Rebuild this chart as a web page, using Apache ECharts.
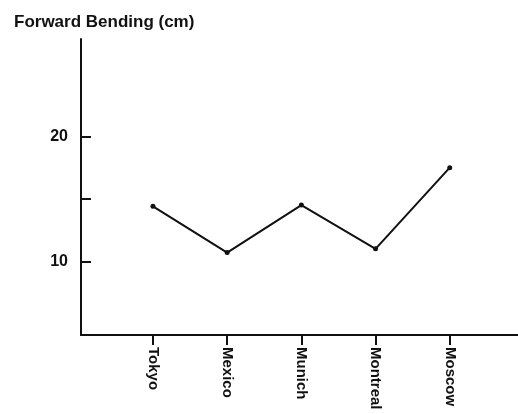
<!DOCTYPE html>
<html>
<head>
<meta charset="utf-8">
<script src="https://cdn.jsdelivr.net/npm/echarts@6/dist/echarts.min.js"></script>
<style>html,body{margin:0;padding:0;background:#fff;}#c{width:518px;height:414px;}</style>
</head>
<body>
<div id="c"></div>
<script>
const categories = ['Tokyo', 'Mexico', 'Munich', 'Montreal', 'Moscow'];
const bending = [14.4, 10.7, 14.5, 11.0, 17.5];
const yTicks = [10, 15, 20];
const yLabels = [10, 20];
const titleText = 'Forward Bending (cm)';

const positions = categories.map((c, i) => i + 1);
const seriesData = categories.map((c, i) => [positions[i], bending[i]]);
const font = 'Liberation Sans, Arial, sans-serif';

const chart = echarts.init(document.getElementById('c'), null, {renderer: 'canvas'});
chart.setOption({
  animation: false,
  backgroundColor: '#fff',
  title: {
    text: titleText, left: 9, top: 9,
    textStyle: {fontFamily: font, fontWeight: 'bold', fontSize: 17, color: '#111'}
  },
  grid: {left: 81, right: 0, top: 39, bottom: 79, containLabel: false},
  xAxis: {
    type: 'value', min: 0.03, max: 5.92,
    splitLine: {show: false},
    axisLine: {show: true, lineStyle: {color: '#111', width: 2}},
    axisTick: {show: true, customValues: positions, length: 10, lineStyle: {color: '#111', width: 2}},
    axisLabel: {
      customValues: positions, rotate: -90, margin: 12,
      formatter: v => categories[Math.round(v) - 1] || '',
      fontFamily: font, fontWeight: 'bold', fontSize: 15, color: '#111'
    }
  },
  yAxis: {
    type: 'value', min: 4.1, max: 27.8,
    splitLine: {show: false},
    axisLine: {show: true, lineStyle: {color: '#111', width: 2}},
    axisTick: {show: true, inside: true, customValues: yTicks, length: 10, lineStyle: {color: '#111', width: 2}},
    axisLabel: {
      customValues: yLabels, margin: 13,
      fontFamily: font, fontWeight: 'bold', fontSize: 16, color: '#111'
    }
  },
  series: [{
    type: 'line', data: seriesData,
    symbol: 'circle', symbolSize: 5,
    lineStyle: {color: '#111', width: 2},
    itemStyle: {color: '#111'}
  }]
});
</script>
</body>
</html>
